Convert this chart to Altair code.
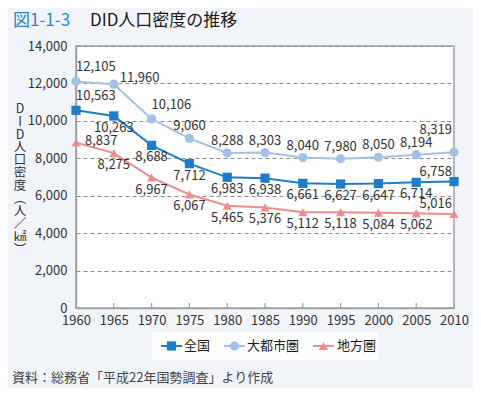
import altair as alt
import pandas as pd

# ---- data ----
years = [1960, 1965, 1970, 1975, 1980, 1985, 1990, 1995, 2000, 2005, 2010]
series_names = ["全国", "大都市圏", "地方圏"]
zenkoku = [10563, 10263, 8688, 7712, 6983, 6938, 6661, 6627, 6647, 6714, 6758]
daitoshi = [12105, 11960, 10106, 9060, 8288, 8303, 8040, 7980, 8050, 8194, 8319]
chiho = [8837, 8275, 6967, 6067, 5465, 5376, 5112, 5118, 5084, 5062, 5016]
y_ticks = [0, 2000, 4000, 6000, 8000, 10000, 12000, 14000]

# label placement codes (style, not data)
place_zenkoku = ["al", "b", "b", "b", "b", "b", "b", "b", "b", "b", "ar"]
place_daitoshi = ["al", "r", "al", "a", "a", "a", "a", "a", "a", "a", "arr"]
place_chiho = ["r2", "b", "b", "b", "b", "b", "b", "b", "b", "b", "ar"]

title_num = "図1-1-3"
title_text = "DID人口密度の推移"
y_title_chars = ["D", "I", "D", "人", "口", "密", "度", "︵", "人", "／", "㎢", "︶"]
note = "資料：総務省「平成22年国勢調査」より作成"

colors = ["#1f7cc6", "#a3c1e7", "#f08b8d"]
shapes = ["square", "circle", "triangle-up"]
FONT = "Noto Sans CJK JP"
W, H = 378, 262

rows = []
for name, vals, places in zip(series_names,
                              [zenkoku, daitoshi, chiho],
                              [place_zenkoku, place_daitoshi, place_chiho]):
    for yr, v, p in zip(years, vals, places):
        rows.append({"year": yr, "value": v, "series": name, "place": p,
                     "label": f"{v:,}"})
df = pd.DataFrame(rows)

xs = alt.Scale(domain=[1960, 2010], nice=False, zero=False)
ys = alt.Scale(domain=[0, 14000], nice=False)
cs = alt.Scale(domain=series_names, range=colors)
ss = alt.Scale(domain=series_names, range=shapes)

x_axis = alt.Axis(
    values=years, format="d", title=None, ticks=False, grid=False,
    labelFont=FONT, labelFontSize=13, labelColor="#333333", labelPadding=6,
    domainColor="#a0a0a0", domainWidth=1.5, labelFlush=False)
y_axis = alt.Axis(
    values=y_ticks, format=",d", title=None, ticks=False,
    labelFont=FONT, labelFontSize=13, labelColor="#333333", labelPadding=9,
    domainColor="#a0a0a0", domainWidth=1.5,
    gridDash=[4, 3], gridColor="#8c8c8c", gridWidth=1)

X = alt.X("year:Q", scale=xs, axis=x_axis)
Y = alt.Y("value:Q", scale=ys, axis=y_axis)

base = alt.Chart(df)

lines = base.mark_line(strokeWidth=2).encode(
    x=X, y=Y,
    color=alt.Color("series:N", scale=cs, legend=None),
    detail="series:N",
)
points = base.mark_point(filled=True, opacity=1, size=85).encode(
    x=X, y=Y,
    color=alt.Color("series:N", scale=cs, legend=None),
    shape=alt.Shape("series:N", scale=ss, legend=None),
)

# inward x ticks
tick_df = pd.DataFrame({"year": years})
ticks = alt.Chart(tick_df).mark_rule(color="#a0a0a0", strokeWidth=1.2).encode(
    x=X, y=alt.value(H), y2=alt.value(H - 5))

place_styles = {
    "a": dict(align="center", dx=0, dy=-12),
    "b": dict(align="center", dx=0, dy=12),
    "al": dict(align="left", dx=0, dy=-14),
    "r": dict(align="left", dx=6, dy=-6),
    "r2": dict(align="left", dx=9, dy=-2),
    "ar": dict(align="right", dx=-2, dy=-10),
    "arr": dict(align="right", dx=-2, dy=-22),
}
label_layers = []
for code, st in place_styles.items():
    label_layers.append(
        base.transform_filter(alt.datum.place == code).mark_text(
            font=FONT, fontSize=13, color="#333333", baseline="middle", **st
        ).encode(x=X, y=Y, text="label:N"))

one = pd.DataFrame({"k": [0]})


def txt(text, x, y, **kw):
    return alt.Chart(one).mark_text(text=text, font=FONT, **kw).encode(
        x=alt.value(x), y=alt.value(y))


title1 = txt(title_num, -63, -25, fontSize=17, color="#2a86c9", align="left", baseline="middle")
title2 = txt(title_text, 14, -25, fontSize=17, color="#231815", align="left", baseline="middle")
ytitle = txt(y_title_chars, -56, 57, fontSize=12.5, color="#333333", align="center",
             baseline="top", lineHeight=12.8)
note_t = txt(note, -64, 332, fontSize=13, color="#444444", align="left", baseline="middle")

# legend (manual)
leg_box = alt.Chart(one).mark_rect(color="white").encode(
    x=alt.value(76), x2=alt.value(302), y=alt.value(286), y2=alt.value(314))
leg_layers = [leg_box]
leg_x = [85, 148, 237]
leg_tx = [108, 171, 261]
for i, name in enumerate(series_names):
    leg_layers.append(alt.Chart(one).mark_rule(color=colors[i], strokeWidth=2).encode(
        x=alt.value(leg_x[i]), x2=alt.value(leg_x[i] + 21), y=alt.value(300)))
    leg_layers.append(alt.Chart(one).mark_point(
        shape=shapes[i], filled=True, opacity=1, size=85, color=colors[i]).encode(
        x=alt.value(leg_x[i] + 10.5), y=alt.value(300)))
    leg_layers.append(txt(name, leg_tx[i], 300, fontSize=13, color="#231815",
                          align="left", baseline="middle"))

chart = alt.layer(
    ticks, lines, points, *label_layers,
    title1, title2, ytitle, note_t, *leg_layers
).properties(
    width=W, height=H,
    padding={"left": 68, "top": 38, "right": 19, "bottom": 80},
    autosize=alt.AutoSizeParams(type="none"),
    background="#f1f5fa",
).configure_view(
    fill="white", stroke="#a0a0a0", strokeWidth=1.5
)

chart.save("out.html", embed_options={"renderer": "svg", "actions": False})
